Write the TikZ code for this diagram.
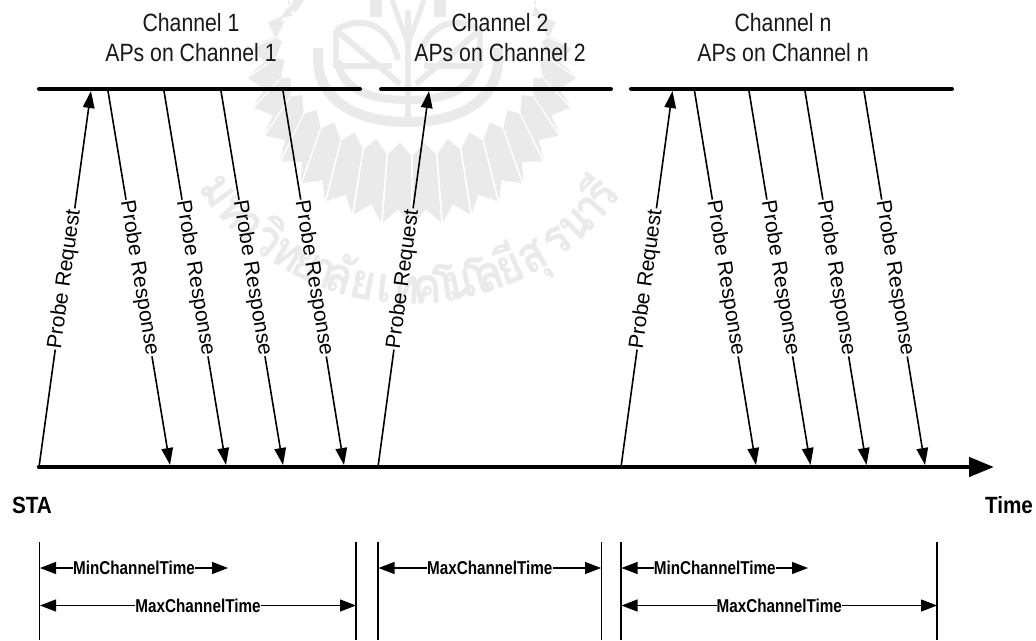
\documentclass[tikz,border=0pt]{standalone}
\usepackage{fontspec}
\setmainfont{Liberation Sans}
\newfontfamily\thaifont[Script=Thai]{Loma}
\usetikzlibrary{arrows.meta,calc}
\definecolor{wmgray}{RGB}{234,234,234}
\tikzset{
  title/.style={font=\fontsize{25}{30}\selectfont,xscale=0.85,align=center,inner sep=0pt,text=black!90},
  bar/.style={line width=4pt,line cap=round,black},
  axisbar/.style={line width=4.5pt,line cap=round,black},
  msg/.style={line width=1.6pt,black},
  msgtip/.style={-{Triangle[length=17pt,width=11.5pt]}},
  msglabel/.style={font=\fontsize{21}{21}\selectfont,inner sep=1pt},
  bound/.style={line width=1.4pt,black},
  dim/.style={line width=1.2pt,black,-{Triangle[length=16pt,width=12pt]}},
  dimlabel/.style={font=\fontsize{18.6}{19}\selectfont\bfseries,xscale=0.82,inner sep=0pt},
  tag/.style={font=\fontsize{23.5}{24}\selectfont\bfseries,xscale=0.88,inner sep=0pt},
  wmtext/.style={font=\fontsize{50}{50}\thaifont\bfseries,text=wmgray,inner sep=0pt,anchor=base,xscale=0.88},
  wmband/.style={draw=wmgray,line join=round,line cap=butt}
}
\newcommand{\probemsg}[5]{%
  \coordinate (#1s) at (#2);
  \coordinate (#1e) at (#3);
  \node[msglabel,rotate=#4] (#1l) at ($(#1s)!.5!(#1e)$) {#5};
  \draw[msg] (#1s) -- (#1l);
  \draw[msg,msgtip] (#1l) -- (#1e);
}
\newcommand{\dimline}[5]{%
  \coordinate (#1a) at (#2,#4);
  \coordinate (#1b) at (#3,#4);
  \node[dimlabel] (#1l) at ($(#1a)!.5!(#1b)$) {#5};
  \draw[dim] (#1l) -- (#1a);
  \draw[dim] (#1l) -- (#1b);
}
\begin{document}
\begin{tikzpicture}[x=1pt,y=-1pt]
\useasboundingbox (0,0) rectangle (1036,640);
\fill[white] (0,0) rectangle (1036,640);

% ---------- watermark: fan of rays ----------
\foreach \s in {-1,1}{
  \foreach \i in {0,...,10}{
    \pgfmathsetmacro{\ta}{\i*10.5+0.35}
    \pgfmathsetmacro{\tb}{(\i+1)*10.5-0.35}
    \pgfmathsetmacro{\tm}{(\i+0.5)*10.5}
    \pgfmathsetmacro{\ra}{\ta>90 ? 165-(\ta-90)*1.1 : 165}
    \pgfmathsetmacro{\rb}{\tb>90 ? 165-(\tb-90)*1.1 : 165}
    \pgfmathsetmacro{\rm}{0.5*(\ra+\rb)-15}
    \fill[wmgray]
      ({412+\s*130*sin(\tm)},{40+103*cos(\tm)})
      -- ({412+\s*136*sin(\tb)},{46+110*cos(\tb)})
      -- ({412+\s*\rb*sin(\tb)},{60+\rb*cos(\tb)})
      -- ({412+\s*\rm*sin(\tm)},{60+\rm*cos(\tm)})
      -- ({412+\s*\ra*sin(\ta)},{60+\ra*cos(\ta)})
      -- ({412+\s*136*sin(\ta)},{46+110*cos(\ta)})
      -- cycle;
  }
}
% ---------- watermark: emblem ----------
\draw[wmband,line width=10pt] (318,48) -- (318,62) .. controls (320,98) and (352,122) .. (408,122) .. controls (464,122) and (496,98) .. (498,62) -- (498,48);
\draw[wmband,line width=8pt] (338,60) .. controls (340,88) and (368,100) .. (408,100) .. controls (448,100) and (476,88) .. (478,60);
\draw[wmband,line width=6pt] (336,30) -- (336,66) -- (392,66);
\draw[wmband,line width=6pt] (336,30) -- (400,84);
\draw[wmband,line width=6pt] (336,30) .. controls (366,12) and (392,30) .. (398,60);
\draw[wmband,line width=6pt] (480,30) -- (480,66) -- (424,66);
\draw[wmband,line width=6pt] (480,30) -- (416,84);
\draw[wmband,line width=6pt] (480,30) .. controls (450,12) and (424,30) .. (418,60);
\draw[wmband,line width=6pt] (408,10) -- (408,122);
\draw[wmband,line width=5pt] (392,0) -- (408,44) -- (424,0);
\fill[wmgray] (370,0) rectangle (382,17);
\fill[wmgray] (434,0) rectangle (446,17);
\fill[wmgray] (294,0) -- (304,0) -- (296,12) -- (288,10) -- cycle;
% ---------- watermark: arc text ----------
\foreach \c/\a [count=\n] in {ม/-53.5,ห/-47,า/-42.5,วิ/-37,ท/-31,ย/-26,า/-21.5,ลั/-17.5,ย/-11.6,เ/-6.5,ท/-1.5,ค/3.6,โ/8,น/11.5,โ/16,ล/19,ยี/24,สุ/30,ร/37,น/43,า/48,รี/52.4}{
  \node[rotate=\a,wmtext] (wm\n) at ({412+256*sin(\a)},{48+256*cos(\a)}) {\c};
}

% ---------- titles ----------
\node[title] (t1) at (191,38) {Channel 1\\APs on Channel 1};
\node[title] (t2) at (500,38) {Channel 2\\APs on Channel 2};
\node[title] (tn) at (783,38) {Channel n\\APs on Channel n};

% ---------- bars ----------
\coordinate (b1a) at (39,89);  \coordinate (b1b) at (360,89);
\coordinate (b2a) at (381,89); \coordinate (b2b) at (611,89);
\coordinate (bna) at (631,89); \coordinate (bnb) at (952,89);
\draw[bar] (b1a) -- (b1b);
\draw[bar] (b2a) -- (b2b);
\draw[bar] (bna) -- (bnb);
\coordinate (axa) at (39,467); \coordinate (axb) at (994,467);
\draw[axisbar,-{Triangle[length=25pt,width=19pt]}] (axa) -- (axb);

% ---------- messages ----------
\probemsg{q1}{39,467}{91,91}{82.1}{Probe Request}
\probemsg{p1}{108,91}{170,465}{-80.6}{Probe Response}
\probemsg{p2}{164,91}{226,465}{-80.6}{Probe Response}
\probemsg{p3}{221,91}{283,465}{-80.6}{Probe Response}
\probemsg{p4}{283,91}{344,465}{-80.7}{Probe Response}
\probemsg{q2}{378,467}{429,91}{82.3}{Probe Request}
\probemsg{qn}{621,467}{672.5,91}{82.2}{Probe Request}
\probemsg{r1}{694.5,91}{756,465}{-80.7}{Probe Response}
\probemsg{r2}{749,91}{810.5,465}{-80.7}{Probe Response}
\probemsg{r3}{805,91}{866.5,465}{-80.7}{Probe Response}
\probemsg{r4}{864,91}{925,465}{-80.7}{Probe Response}

% ---------- tags ----------
\node[tag] (sta) at (32,505) {STA};
\node[tag] (time) at (1009,505) {Time};

% ---------- time boundaries ----------
\foreach \x/\nm in {39.5/v1,356/v2,378/v3,601.5/v4,621/v5,937/v6}{
  \coordinate (\nm a) at (\x,542);
  \coordinate (\nm b) at (\x,640);
  \draw[bound] (\nm a) -- (\nm b);
}
\dimline{d1}{40}{228}{568}{MinChannelTime}
\dimline{d2}{40}{356}{605.5}{MaxChannelTime}
\dimline{d3}{378.5}{601}{568}{MaxChannelTime}
\dimline{d4}{621.5}{808}{568}{MinChannelTime}
\dimline{d5}{621.5}{937}{605.5}{MaxChannelTime}
\end{tikzpicture}
\end{document}
